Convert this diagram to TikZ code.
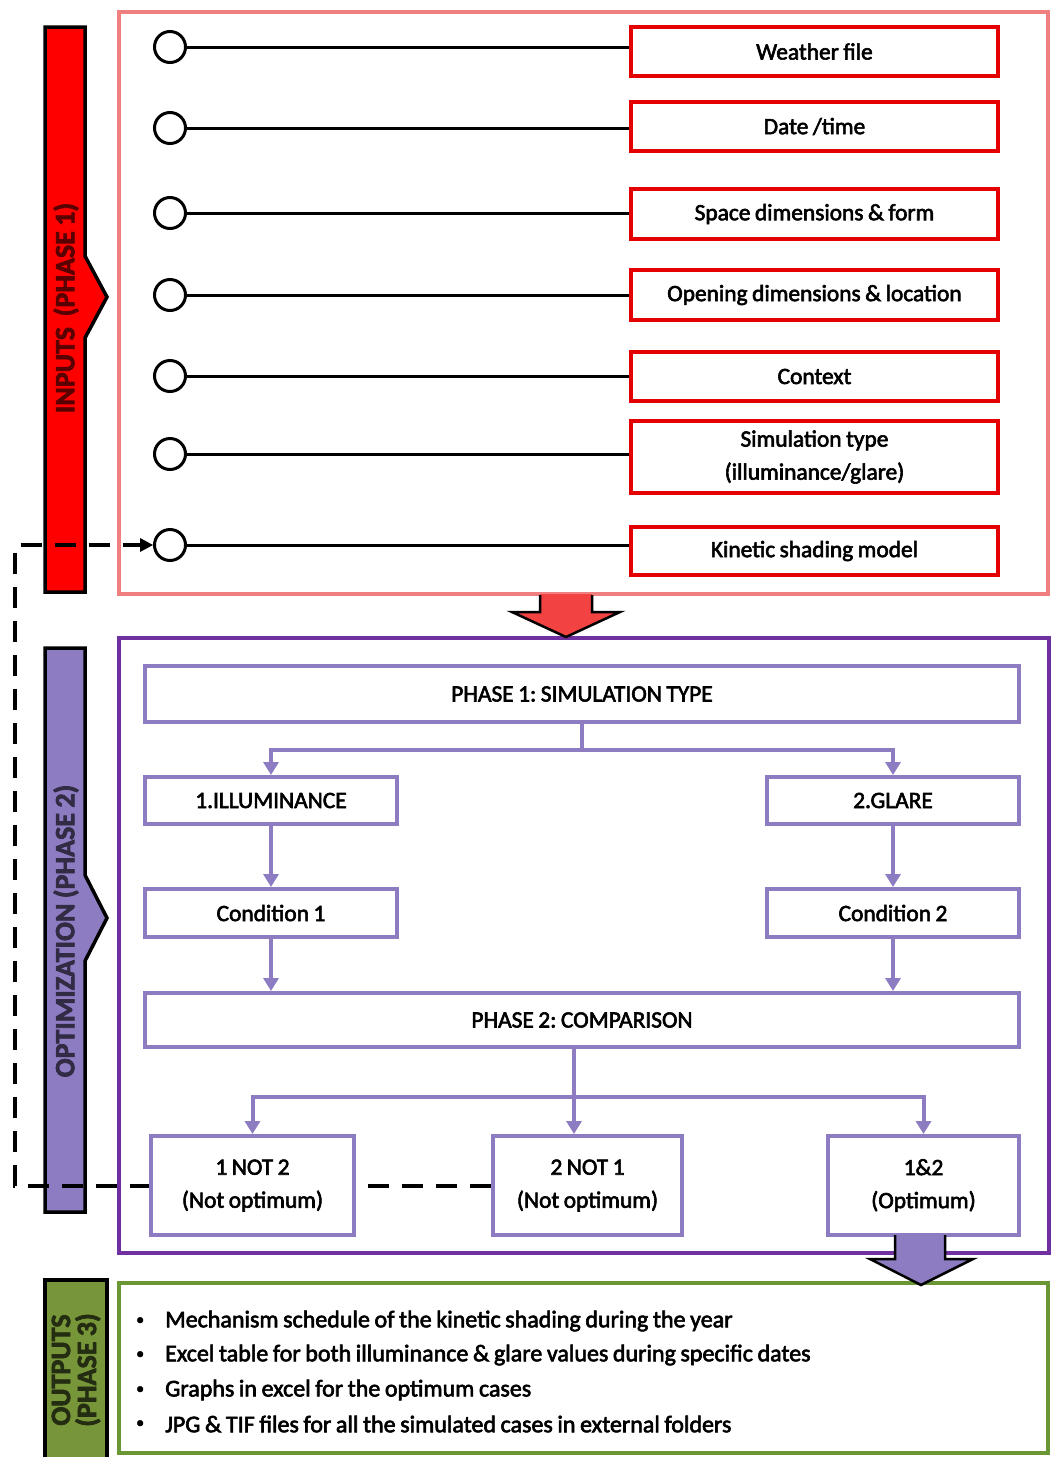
\documentclass[tikz,border=0pt]{standalone}
\usepackage{fontspec}
\setmainfont{Carlito}[FakeBold=2.5, WordSpace=0.85]
\usetikzlibrary{arrows.meta,calc}

\definecolor{inred}{RGB}{228,0,0}
\definecolor{pinkline}{RGB}{240,128,128}
\definecolor{arrowred}{RGB}{242,66,66}
\definecolor{deeppurple}{RGB}{112,48,160}
\definecolor{lavender}{RGB}{142,124,195}
\definecolor{outgreen}{RGB}{107,150,52}
\definecolor{bargreen}{RGB}{119,150,58}

\pgfdeclarelayer{frames}
\pgfdeclarelayer{dashes}
\pgfsetlayers{frames,dashes,main}

\frenchspacing
\newcommand{\boxfont}{\fontsize{23.4}{33}\selectfont}
\newcommand{\listfont}{\fontsize{24}{33}\selectfont}
\newcommand{\barfont}{\fontsize{28}{26}\selectfont\bfseries}

\tikzset{
  inbox/.style={draw=inred, line width=4pt, fill=white, minimum width=367pt,
    font=\boxfont, align=center, inner sep=0pt},
  pinring/.style={circle, draw=black, line width=3pt, fill=white,
    minimum size=31pt, inner sep=0pt},
  wire/.style={draw=black, line width=3pt},
  flowbox/.style={draw=lavender, line width=4pt, fill=white,
    font=\boxfont, align=center, inner sep=0pt},
  flow/.style={draw=lavender, line width=4pt},
  flowarrow/.style={flow, -{Triangle[width=15pt,length=13pt]}},
  sidebar/.style={draw=black, line width=3.5pt, line join=miter},
  bigarrow/.style={draw=black, line width=2.5pt, line join=miter},
  loopline/.style={draw=black, line width=4pt, dash pattern=on 21pt off 13pt},
  bartext/.style={rotate=90, font=\barfont, align=center},
  bullettext/.style={anchor=west, font=\listfont, inner sep=0pt},
}

\begin{document}
\begin{tikzpicture}[x=1pt,y=-1pt]
\useasboundingbox (0,0) rectangle (1051,1457);

% ---------- section frames and side bars ----------
\begin{pgfonlayer}{frames}
  \fill[white] (0,0) rectangle (1051,1457);
  \draw[pinkline, line width=4pt] (119,12) rectangle (1048,594);
  \draw[deeppurple, line width=4.5pt] (119,638) rectangle (1049,1253);
  \draw[outgreen, line width=4.5pt] (119,1283) rectangle (1048,1453);

  \draw[sidebar, fill=red] (45,27) -- (85,27) -- (85,256) -- (107,297)
    -- (85,338) -- (85,592) -- (45,592) -- cycle;
  \draw[sidebar, fill=lavender] (45,648) -- (85,648) -- (85,875) -- (107,918)
    -- (85,961) -- (85,1212) -- (45,1212) -- cycle;
  \draw[sidebar, line width=4.5pt, fill=bargreen] (45,1280) rectangle (107,1470);

  \node[bartext, text=red!35!black] (lblin) at (66,308) {INPUTS\ \ (PHASE 1)};
  \node[bartext, text=lavender!35!black] (lblopt) at (66,931) {OPTIMIZATION (PHASE 2)};
  \node[bartext, text=bargreen!30!black] (lblout) at (76,1370) {OUTPUTS\\(PHASE 3)};
\end{pgfonlayer}

% ---------- inputs ----------
\node[inbox, minimum height=49pt] (w1) at (814.5,51.5) {Weather file};
\node[inbox, minimum height=49pt] (w2) at (814.5,126.5) {Date /time};
\node[inbox, minimum height=50pt] (w3) at (814.5,214) {Space dimensions \& form};
\node[inbox, minimum height=50pt] (w4) at (814.5,295) {Opening dimensions \& location};
\node[inbox, minimum height=49pt] (w5) at (814.5,376.5) {Context};
\node[inbox, minimum height=72pt] (w6) at (814.5,457) {Simulation type\\(illuminance/glare)};
\node[inbox, minimum height=48pt] (w7) at (814.5,551) {Kinetic shading model};

\node[pinring] (c1) at (170,47) {};
\node[pinring] (c2) at (170,128) {};
\node[pinring] (c3) at (170,213) {};
\node[pinring] (c4) at (170,295) {};
\node[pinring] (c5) at (170,376) {};
\node[pinring] (c6) at (170,454) {};
\node[pinring] (c7) at (170,545) {};

\foreach \i in {1,...,7}
  \draw[wire] (c\i.east) -- (c\i.east -| w\i.west);

% ---------- arrow from inputs to optimization ----------
\fill[arrowred] (540,594) -- (540,612) -- (512,612) -- (566,637) -- (620,612)
  -- (592,612) -- (592,594) -- cycle;
\draw[bigarrow] (540,595) -- (540,612) -- (512,612) -- (566,637) -- (620,612)
  -- (592,612) -- (592,595);

% ---------- optimization flow ----------
\node[flowbox, minimum width=874pt, minimum height=56pt] (p1) at (582,694)
  {PHASE 1: SIMULATION TYPE};
\node[flowbox, minimum width=252pt, minimum height=47pt] (ill) at (271,800.5)
  {1.ILLUMINANCE};
\node[flowbox, minimum width=252pt, minimum height=47pt] (gl) at (893,800.5)
  {2.GLARE};
\node[flowbox, minimum width=252pt, minimum height=48pt] (k1) at (271,913)
  {Condition 1};
\node[flowbox, minimum width=252pt, minimum height=48pt] (k2) at (893,913)
  {Condition 2};
\node[flowbox, minimum width=874pt, minimum height=54pt] (p2) at (582,1020)
  {PHASE 2: COMPARISON};
\node[flowbox, minimum width=203pt, minimum height=99pt] (n12) at (252.5,1185.5)
  {1 NOT 2\\(Not optimum)};
\node[flowbox, minimum width=189pt, minimum height=99pt] (n21) at (587.5,1185.5)
  {2 NOT 1\\(Not optimum)};
\node[flowbox, minimum width=191pt, minimum height=99pt] (opt) at (923.5,1185.5)
  {1\&2\\(Optimum)};

\coordinate (split1) at (582,750);
\coordinate (split2) at (574,1097);

\draw[flow] (p1.south) -- (split1);
\draw[flowarrow] (split1) -| (ill.north);
\draw[flowarrow] (split1) -| (gl.north);
\draw[flowarrow] (ill.south) -- (k1.north);
\draw[flowarrow] (gl.south) -- (k2.north);
\draw[flowarrow] (k1.south) -- (k1.south |- p2.north);
\draw[flowarrow] (k2.south) -- (k2.south |- p2.north);
\draw[flow] (split2 |- p2.south) -- (split2);
\draw[flowarrow] (split2) -| (n12.north);
\draw[flowarrow] (split2) -- (split2 |- n21.north);
\draw[flowarrow] (split2) -| (opt.north);

% ---------- feedback loop back to the shading model ----------
\coordinate (loopx) at (15,0);
\begin{pgfonlayer}{dashes}
  \draw[loopline] (n21.west) -- (loopx |- n21.west) -- (loopx |- c7.west)
    -- ([xshift=-12pt]c7.west);
  \fill[black] (c7.west) -- ++(-13,-7) -- ++(0,14) -- cycle;
\end{pgfonlayer}

% ---------- arrow from optimization to outputs ----------
\fill[lavender] (895,1235) -- (895,1259) -- (870,1259) -- (921,1285) -- (973,1259)
  -- (945,1259) -- (945,1235) -- cycle;
\draw[bigarrow] (895,1235) -- (895,1259) -- (870,1259) -- (921,1285) -- (973,1259)
  -- (945,1259) -- (945,1235);

% ---------- outputs ----------
\foreach \y/\t [count=\k] in {
    1321/Mechanism schedule of the kinetic shading during the year,
    1355/Excel table for both illuminance \& glare values during specific dates,
    1390/Graphs in excel for the optimum cases,
    1424/JPG \& TIF files for all the simulated cases in external folders} {
  \node[bullettext, font=\fontsize{16}{16}\selectfont] (bul\k) at (136,\y) {\textbullet};
  \node[bullettext] (out\k) at (165,\y) {\t};
}
\end{tikzpicture}
\end{document}
